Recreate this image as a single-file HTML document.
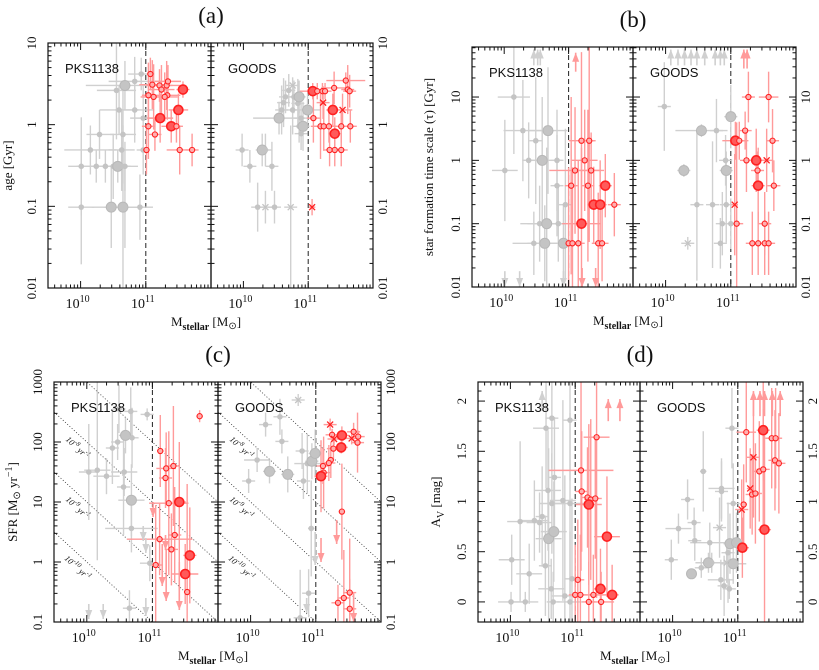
<!DOCTYPE html>
<html><head><meta charset="utf-8"><style>
html,body{margin:0;padding:0;background:#fff;width:819px;height:670px;overflow:hidden}
svg{display:block;font-family:"Liberation Serif",serif}
</style></head><body>
<svg id="fig" width="819" height="670" viewBox="0 0 819 670" xmlns="http://www.w3.org/2000/svg">
<defs></defs>
</svg>
<script>
// ---------- data: [logMstellar, y, type(0 small,1 big,2 cross), xErr, yErr] ----------
const aPksGray=[[10.01,-1.01,0,0.2,0.7],[10.15,-0.31,0,0.4,0.3],[10.29,-0.12,0,0.2,0.3],[10.01,-0.51,0,0.2,0.6],[10.24,-0.51,0,0.3,0.2],[10.38,-0.51,0,0.2,0.2],[10.50,-0.51,0,0.1,0.4],[10.57,-0.51,1,0.2,0.2],[10.63,-0.51,0,0.1,0.3],[10.68,-0.51,0,0.2,0.3],[10.47,-1.01,1,0.3,0.5],[10.65,-1.01,1,0.3,1.0],[10.68,-1.01,0,0.2,0.5],[10.91,-1.01,0,0.2,0.4],[10.55,0.42,0,0.3,0.6],[10.68,0.48,1,0.6,0.3],[10.83,0.53,0,0.4,0.3],[10.93,0.62,0,0.2,0.2],[10.59,0.18,0,0.3,0.3],[10.83,0.18,0,0.3,0.4],[10.63,-0.31,0,0.2,0.5],[10.65,-0.12,0,0.2,0.6],[10.96,-0.31,0,0.1,0.3],[10.96,0.08,0,0.2,0.4]];
const aPksRed=[[11.07,0.62,0,0.05,0.2],[11.10,0.49,0,0.2,0.3],[11.04,0.36,0,0.1,0.4],[11.12,0.34,0,0.2,0.4],[11.21,0.48,0,0.2,0.2],[11.24,0.43,0,0.2,0.3],[11.22,0.08,1,0.2,0.3],[11.32,0.48,0,0.2,0.3],[11.33,0.36,0,0.2,0.3],[11.29,0.34,0,0.2,0.3],[11.34,0.53,0,0.2,0.2],[11.57,0.43,1,0.1,0.1],[11.50,0.18,1,0.15,0.2],[11.39,-0.02,1,0.15,0.2],[11.47,-0.02,0,0.1,0.2],[11.04,-0.02,0,0.1,0.4],[11.14,-0.12,0,0.1,0.2],[11.01,-0.31,0,0.05,0.3],[11.52,-0.31,0,0.2,0.3],[11.71,-0.31,0,0.1,0.2]];
const aGoodsGray=[[9.98,-0.31,0,0.1,0.2],[10.10,-0.51,0,0.1,0.2],[10.29,-0.31,1,0.1,0.2],[10.34,-0.31,0,0.1,0.2],[10.44,-0.51,0,0.1,0.3],[10.22,-1.01,0,0.1,0.3],[10.34,-1.01,2,0.1,0.2],[10.48,-1.01,0,0.1,0.2],[10.73,-1.01,2,0.1,1.0],[10.55,0.08,1,0.4,0.2],[10.59,0.18,0,0.1,0.3],[10.62,0.27,0,0.1,0.3],[10.65,0.34,0,0.1,0.2],[10.70,0.42,0,0.1,0.2],[10.76,0.48,2,0.1,0.1],[10.76,0.18,0,0.1,0.3],[10.78,0.34,0,0.1,0.2],[10.84,0.26,0,0.1,0.3],[10.86,0.34,1,0.1,0.2],[10.86,-0.02,0,0.1,0.2],[10.92,-0.02,1,0.1,0.3],[10.89,-0.11,0,0.1,0.2],[10.99,0.18,1,0.2,0.2],[10.89,0.08,0,0.1,0.2]];
const aGoodsRed=[[11.07,0.41,1,0.2,0.1],[11.14,0.41,0,0.1,0.1],[11.22,0.41,0,0.1,0.1],[11.26,0.41,0,0.1,0.1],[11.23,0.27,2,0.1,0.2],[11.40,0.45,0,0.2,0.2],[11.58,0.54,0,0.3,0.1],[11.61,0.43,0,0.1,0.3],[11.64,0.41,0,0.1,0.2],[11.53,0.18,2,0.15,0.2],[11.38,0.18,1,0.1,0.2],[11.08,0.08,0,0.1,0.3],[11.19,-0.02,0,0.1,0.4],[11.24,-0.02,0,0.2,0.3],[11.32,-0.02,0,0.1,0.2],[11.51,-0.02,0,0.2,0.2],[11.65,-0.02,0,0.1,0.2],[11.41,-0.11,1,0.1,0.2],[11.33,-0.31,0,0.1,0.2],[11.41,-0.31,0,0.1,0.2],[11.51,-0.31,0,0.1,0.2],[11.06,-1.01,2,0.05,0.1]];

const bPksGray=[[10.15,1.0,0,0.25,0.9],[10.01,-0.16,0,0.2,0.8],[10.29,0.47,0,0.3,0.8],[10.49,0.31,0,0.1,1.0],[10.38,0,0,0.1,0.6],[10.68,0.47,1,0.3,1.0],[10.59,0,1,0.3,1.0],[10.82,0,0,0.1,0.8],[10.82,-0.4,0,0.1,0.8],[10.55,-1,0,0.3,0.6],[10.66,-1,1,0.3,1.2],[10.84,-1,0,0.1,0.6],[10.95,-0.7,0,0.1,1.2],[10.46,-1.31,0,0.1,0.5],[10.63,-1.31,1,0.5,0.6],[10.92,-1.31,1,0.2,0.6]];
const bPksRed=[[11.2,0.31,0,0.2,1.4],[11.32,0.31,0,0.1,1.6],[11.25,0,0,0.2,0.8],[11.1,-0.16,0,0.4,1.0],[11.35,-0.16,0,0.2,0.6],[11.04,-0.4,0,0.1,1.4],[11.3,-0.4,0,0.1,1.2],[11.57,-0.4,1,0.1,0.5],[11.39,-0.7,1,0.1,0.6],[11.49,-0.7,1,0.1,0.7],[11.71,-0.7,0,0.1,0.5],[11.2,-1,1,0.3,1.2],[11.0,-1.31,0,0.05,1.2],[11.06,-1.31,0,0.1,1.2],[11.15,-1.31,0,0.1,1.3],[11.46,-1.31,0,0.1,0.8],[11.52,-1.31,0,0.1,0.6]];
const bGoodsGray=[[9.98,0.85,0,0.1,0.7],[10.55,0.47,1,0.4,0.1],[10.78,0.47,0,0.1,0.5],[10.28,-0.16,1,0.1,0.1],[10.92,0,0,0.1,0.4],[10.93,-0.16,1,0.1,0.3],[11.0,0.69,1,0.1,0.5],[10.48,-0.7,0,0.1,1.2],[10.72,-0.7,0,0.1,1.0],[10.93,-0.7,0,0.1,0.6],[10.87,-1,0,0.1,0.5],[11.0,-1,0,0.1,0.4],[10.84,-1.31,0,0.1,0.4],[10.34,-1.31,2,0.1,0.1]];
const bGoodsRed=[[11.27,1,0,0.1,0.4],[11.58,1,0,0.15,0.4],[11.22,0.47,0,0.1,0.3],[11.07,0.31,1,0.2,0.3],[11.13,0.31,0,0.1,0.3],[11.64,0.31,0,0.1,0.5],[11.24,0,0,0.1,0.5],[11.39,0,1,0.2,0.5],[11.55,0,2,0.1,0.5],[11.41,-0.16,0,0.1,0.3],[11.42,-0.4,1,0.1,0.6],[11.66,-0.4,0,0.1,0.4],[11.06,-0.7,2,0.05,0.8],[11.09,-1,0,0.1,1.6],[11.52,-1,0,0.1,0.5],[11.33,-1.31,0,0.1,0.5],[11.42,-1.31,0,0.1,0.5],[11.52,-1.31,0,0.1,0.5],[11.58,-1.31,0,0.1,0.5]];

const cPksGray=[[10.03,1.5,0,0.15,0.8],[10.16,1.53,0,0.2,1.5],[10.30,1.43,0,0.2,0.3],[10.39,1.9,0,0.1,0.6],[10.49,2.55,0,0.1,0.4],[10.47,2.0,0,0.1,0.3],[10.56,1.25,0,0.1,0.8],[10.59,2.11,1,0.1,0.3],[10.67,2.51,0,0.1,0.4],[10.69,2.07,0,0.1,0.5],[10.68,1.03,1,0.2,0.6],[10.57,1.5,0,0.2,0.4],[10.68,0.56,0,0.4,0.4],[10.92,2.46,0,0.1,0.1],[10.96,-0.02,0,0.15,0.3],[10.65,-0.77,0,0.1,0.3]];
const cPksRed=[[11.72,2.43,0,0.05,0.1],[11.12,1.85,0,0.05,0.6],[11.21,1.56,0,0.15,0.6],[11.2,1.4,0,0.1,0.5],[11.32,1.6,0,0.1,1.0],[11.25,0.98,0,0.3,1.2],[11.41,1.0,1,0.1,1.0],[11.05,-0.05,0,0.1,1.0],[11.11,0.38,0,0.5,0.6],[11.34,0.45,0,0.1,0.8],[11.29,0.21,0,0.1,0.6],[11.57,0.11,1,0.1,0.8],[11.5,-0.2,1,0.2,0.5],[11.53,-0.5,0,0.05,1.8]];
const cGoodsGray=[[10.23,2.29,0,0.1,0.2],[10.45,2.42,0,0.1,0.3],[10.48,2.01,0,0.1,0.2],[10.73,2.7,2,0.1,0.1],[10.1,1.7,0,0.2,0.2],[9.97,1.35,0,0.1,0.2],[10.29,1.51,1,0.1,0.2],[10.57,1.46,1,0.1,0.3],[10.79,1.85,0,0.1,0.3],[10.87,1.64,0,0.2,0.5],[10.94,1.68,1,0.1,0.3],[10.99,1.81,1,0.1,0.4],[10.81,1.35,0,0.1,0.3],[10.93,0.56,0,0.05,0.8],[10.76,-0.93,0,0.1,0.8],[10.89,-0.52,0,0.1,0.4]];
const cGoodsRed=[[11.22,2.29,2,0.1,0.1],[11.25,2.12,0,0.1,0.1],[11.28,2.05,2,0.1,0.1],[11.4,2.11,1,0.1,0.15],[11.58,2.17,0,0.1,0.15],[11.55,2.06,2,0.1,0.1],[11.65,2.09,0,0.1,0.1],[11.64,1.99,0,0.1,0.5],[11.27,1.89,0,0.1,0.2],[11.39,1.91,1,0.1,0.1],[11.23,1.7,0,0.05,0.3],[11.2,1.65,0,0.1,0.3],[11.11,1.6,0,0.1,0.3],[11.12,1.49,0,0.1,0.6],[11.08,1.43,1,0.1,0.6],[11.4,0.84,0,0.05,0.8],[11.34,-0.68,0,0.1,0.3],[11.43,-0.6,0,0.1,0.8],[11.52,-0.51,0,0.1,0.9],[11.52,-0.78,0,0.1,0.5]];

const dPksGray=[[10.01,0,0,0.2,0.1],[10.23,0,0,0.2,0.1],[10.02,0.42,0,0.2,0.25],[10.29,0.28,0,0.2,0.3],[10.15,0.8,0,0.2,0.8],[10.37,0.81,0,0.2,0.4],[10.45,0.79,0,0.2,0.3],[10.49,0.85,0,0.1,0.5],[10.59,0.63,1,0.2,0.9],[10.67,0.7,1,0.2,0.5],[10.54,0.36,0,0.1,0.5],[10.58,1.11,0,0.2,0.6],[10.64,0.98,0,0.2,0.5],[10.68,1.24,0,0.1,0.6],[10.55,1.73,0,0.2,0.6],[10.64,1.83,0,0.1,0.5],[10.92,1.81,0,0.1,0.6],[10.81,1.01,0,0.2,1.0],[10.92,0.98,0,0.3,0.9],[10.63,0.13,0,0.2,0.3],[10.66,0,0,0.1,0.3],[10.84,0.06,0,0.2,1.2],[10.92,0,0,0.2,0.7],[10.95,0.23,0,0.1,0.8]];
const dPksRed=[[11.33,1.64,0,0.2,1.6],[11.09,1.31,0,0.5,1.0],[11.1,1.1,0,0.1,0.6],[11.19,1.04,0,0.1,0.5],[11.24,1.02,0,0.1,0.8],[11.31,1.03,0,0.1,0.6],[11.21,0.97,1,0.2,0.8],[11.49,0.65,1,0.2,0.6],[11.04,0.22,0,0.1,0.6],[11.0,0.07,0,0.1,0.5],[11.08,0.07,0,0.1,0.6],[11.28,0.07,0,0.2,0.4],[11.39,0.13,1,0.1,0.4],[11.57,0.07,1,0.1,0.3],[11.21,0,0,0.1,0.4],[11.4,0,0,0.2,0.3]];
const dGoodsGray=[[9.98,0.42,0,0.1,0.2],[10.09,0.73,0,0.2,0.15],[10.23,1.02,0,0.1,0.2],[10.33,0.79,0,0.1,0.15],[10.34,0.61,0,0.1,0.2],[10.29,0.28,1,0.05,0.05],[10.44,0.34,0,0.1,0.1],[10.55,0.39,1,0.2,0.1],[10.6,0.39,0,0.1,0.1],[10.47,1.3,0,0.05,0.4],[10.57,0.59,0,0.3,0.2],[10.75,1.13,0,0.2,0.3],[10.75,1.1,0,0.1,0.3],[10.72,0.74,2,0.1,0.3],[10.74,0.22,0,0.2,0.2],[10.79,0.16,0,0.1,0.3],[10.85,0.49,0,0.1,0.5],[10.88,0.58,1,0.1,0.3],[10.98,0.59,1,0.1,0.3],[10.93,0.38,1,0.2,0.2],[10.87,0.13,0,0.1,0.1],[10.91,1.73,0,0.1,0.4],[10.93,0.98,0,0.1,0.4],[10.83,0.39,2,0.1,0.2]];
const dGoodsRed=[[11.07,0.54,1,0.1,0.3],[11.06,0.92,2,0.1,0.3],[11.09,0.97,0,0.05,0.4],[11.13,1.69,0,0.15,0.5],[11.19,1.13,2,0.05,0.4],[11.24,1.44,2,0.1,0.6],[11.22,1.07,0,0.1,0.4],[11.27,1.08,0,0.1,0.5],[11.33,1.3,0,0.1,0.5],[11.39,1.32,0,0.1,0.6],[11.39,1.71,1,0.1,0.5],[11.41,0.72,1,0.1,1.0],[11.52,1.63,0,0.1,0.5],[11.58,1.63,0,0.1,0.5],[11.57,1.41,0,0.1,0.5],[11.63,1.38,0,0.1,0.5]];

const bPksGrayArrows=[[10.46,1.5,1.75],[10.52,1.5,1.75],[10.56,1.5,1.75],[10.01,-1.75,-2],[10.24,-1.75,-2],[10.92,-1.75,-2]];
const bPksRedArrows=[[11.11,1.4,1.7],[11.21,-1.7,-2],[11.42,-1.7,-2]];
const bGoodsGrayArrows=[[10.08,1.5,1.75],[10.19,1.5,1.75],[10.29,1.5,1.75],[10.39,1.5,1.75],[10.48,1.5,1.75],[10.6,1.5,1.75],[10.76,1.5,1.75],[10.84,1.5,1.75],[10.9,1.5,1.75]];
const bGoodsRedArrows=[[11.2,1.45,1.75],[11.25,1.45,1.75]];
const cPksGrayArrows=[[10.03,-0.7,-0.95],[10.25,-0.7,-0.95],[10.86,0.6,0.35],[10.9,0.4,0.15],[10.9,-0.6,-0.9]];
const cPksRedArrows=[[11.01,1.0,0.75],[11.15,0.3,-0.4],[11.21,0.2,-0.65],[11.41,0,-0.8],[11.2,0.45,0.2]];
const cGoodsGrayArrows=[[10.99,0.5,-0.05],[10.86,-0.6,-0.85]];
const cGoodsRedArrows=[[11.08,0.4,0],[11.32,0.7,0.3],[11.58,-0.5,-1]];
const dPksGrayArrows=[[10.49,1.9,2.1]];
const dPksRedArrows=[[11.51,1.8,2.02],[11.69,1.8,2.02]];
const dGoodsRedArrows=[[11.24,1.85,2.1],[11.34,1.85,2.1],[11.41,1.85,2.1],[11.53,1.85,2.1],[11.65,1.85,2.1]];
const guideIntercepts=[3,2,1,0];
const guideLabels=["-8","-9","-10"];
const xTickLabels=["10","10"];
const xTickExps=["10","11"];

const NS="http://www.w3.org/2000/svg";
const svg=document.getElementById('fig');
function el(tag,attrs,parent){const e=document.createElementNS(NS,tag);for(const k in attrs)e.setAttribute(k,attrs[k]);(parent||svg).appendChild(e);return e;}
const GRAY="#c4c4c4", GRAYE="#d0d0d0", RED="#ff2020", REDE="#ff9a9a";
let clipId=0;

function drawPanel(P){
  const g=el('g',{});
  
  
  const H=P.B-P.T;
  const ys=v=>P.B-(v-P.y0)/(P.y1-P.y0)*H;
  [0,1].forEach(s=>{
    const x0=s?P.M:P.L, x1=s?P.R:P.M;
    const xs=m=>x0+(m-9.5)/2.5*(x1-x0);
    const sub=el('g',{},g);
    
    
    const cid='c'+(clipId++);
    const cp=el('clipPath',{id:cid},sub);el('rect',{x:x0,y:P.T,width:x1-x0,height:H},cp);
    const plot=el('g',{'clip-path':'url(#'+cid+')'},sub);
    if(P.ssfr){
      guideIntercepts.forEach(c=>{
        const ln=el('line',{x1:xs(9.5),y1:ys(c+0.5),x2:xs(12),y2:ys(c-2),stroke:'#333','stroke-width':0.8,'stroke-dasharray':'1,2'},plot);
        
        
      });
      guideLabels.forEach((lab,i)=>{
        const m=9.83;
        const cx=xs(m), cy=ys(guideIntercepts[i+1]-(m-10)-0.3);
        const t=el('text',{x:cx,y:cy,'font-size':8.5,'font-style':'italic','text-anchor':'middle',transform:`rotate(43 ${cx} ${cy})`,fill:'#111'},plot);
        
        
        t.innerHTML=`10<tspan dy="-4" font-size="6.5">${lab}</tspan><tspan dy="4"> yr</tspan><tspan dy="-4" font-size="6.5">-1</tspan>`;
      });
    }
    const dl=el('line',{x1:xs(11),y1:P.T,x2:xs(11),y2:P.B,stroke:'#222','stroke-width':1,'stroke-dasharray':'5,3'},plot);
    
    
    const sets=s?[[P.gg,GRAY,GRAYE],[P.gr,RED,REDE]]:[[P.pg,GRAY,GRAYE],[P.pr,RED,REDE]];
    const arrs=s?[[P.gga,GRAYE],[P.gra,REDE]]:[[P.pga,GRAYE],[P.pra,REDE]];
    sets.forEach(([data,col,ecol])=>{
      data.forEach(p=>{
        const [m,v,t,ex,ey]=p;
        const x=xs(m),y=ys(v);
        el('line',{x1:xs(m-ex),y1:y,x2:xs(m+ex),y2:y,stroke:ecol,'stroke-width':1.4},plot);
        el('line',{x1:x,y1:ys(v-ey),x2:x,y2:ys(v+ey),stroke:ecol,'stroke-width':1.4},plot);
      });
    });
    arrs.forEach(([data,col])=>{ if(!data)return;
      data.forEach(a=>{
        const x=xs(a[0]),y1=ys(a[1]),y2=ys(a[2]);const d=y2<y1?1:-1;
        const ar=el('g',{},plot);
        
        
        el('line',{x1:x,y1:y1,x2:x,y2:y2,stroke:col,'stroke-width':1.6},ar);
        el('polygon',{points:`${x},${y2} ${x-3.5},${y2+9*d} ${x+3.5},${y2+9*d}`,fill:col},ar);
      });
    });
    sets.forEach(([data,col,ecol])=>{
      data.forEach(p=>{
        const [m,v,t]=p;const x=xs(m),y=ys(v);
        let mk;
        if(t===2){mk=el('path',{d:`M${x-3},${y-3}L${x+3},${y+3}M${x-3},${y+3}L${x+3},${y-3}`,stroke:col,'stroke-width':1.3},plot);}
        else if(col===RED){mk=el('circle',{cx:x,cy:y,r:t?4.5:2.6,fill:t?'#ff5a5a':'#ffb0b0',stroke:RED,'stroke-width':t?1.6:1.1},plot);}
        else {mk=el('circle',{cx:x,cy:y,r:t?5:2.8,fill:col,stroke:t?'#b8b8b8':'none','stroke-width':1},plot);}
        
        
      });
    });
    el('rect',{x:x0,y:P.T,width:x1-x0,height:H,fill:'none',stroke:'#111','stroke-width':1.2},sub);
    for(let dec=9;dec<12;dec++)for(let k=1;k<10;k++){
      const lm=dec+Math.log10(k); if(lm<9.5||lm>12)continue;
      const x=xs(lm),L=k===1?7:3.5;
      el('line',{x1:x,y1:P.B,x2:x,y2:P.B-L,stroke:'#111','stroke-width':1},sub);
      el('line',{x1:x,y1:P.T,x2:x,y2:P.T+L,stroke:'#111','stroke-width':1},sub);
    }
    xTickExps.forEach((e,i)=>{
      const t=el('text',{x:xs(+e)-3,y:P.B+20,'font-size':14,'text-anchor':'middle',fill:'#111'},sub);
      
      
      t.innerHTML=`${xTickLabels[i]}<tspan dy="-6" font-size="10">${e}</tspan>`;
    });
    const yt=[];
    if(P.log){for(let dec=Math.floor(P.y0);dec<=Math.ceil(P.y1);dec++)for(let k=1;k<10;k++){const v=dec+Math.log10(k);if(v>=P.y0&&v<=P.y1)yt.push([v,k===1]);}}
    else {for(let i=-2;i<=22;i++){const v=i/10;if(v>=P.y0&&v<=P.y1)yt.push([v,i%5===0]);}}
    yt.forEach(([v,maj])=>{const y=ys(v),L=maj?7:3.5;
      el('line',{x1:x0,y1:y,x2:x0+L,y2:y,stroke:'#111','stroke-width':1},sub);
      el('line',{x1:x1,y1:y,x2:x1-L,y2:y,stroke:'#111','stroke-width':1},sub);});
    const nm=el('text',{x:x0+17,y:P.T+30,'font-size':13,'font-family':'Liberation Sans, sans-serif',fill:'#111'},sub);
    
    
    nm.textContent=s?'GOODS':'PKS1138';
  });
  P.ylab.forEach(([v,txt])=>{
    [[P.L-12,'left'],[P.R+14,'right']].forEach(([x,side])=>{
      const y=ys(v);
      const t=el('text',{x:x,y:y,'font-size':13,'text-anchor':'middle',transform:`rotate(-90 ${x} ${y})`,fill:'#111'},g);
      
      
      t.textContent=txt;
    });
  });
  const ttl=el('text',{x:P.M,y:P.T-20,'font-size':23,'text-anchor':'middle',fill:'#111'},g);
  
  
  ttl.textContent=P.title;
  const xl=el('text',{x:P.M-5,y:P.B+38,'font-size':13,'text-anchor':'middle',fill:'#111'},g);
  
  
  xl.innerHTML='M<tspan dy="4" font-size="10" font-weight="bold">stellar</tspan><tspan dy="-4">   [M</tspan><tspan dy="3" font-size="10">⊙</tspan><tspan dy="-3">]</tspan>';
  const yx=P.ytx, yy=(P.T+P.B)/2;
  const yl=el('text',{x:yx,y:yy,'font-size':13,'text-anchor':'middle',transform:`rotate(-90 ${yx} ${yy})`,fill:'#111'},g);
  
  
  yl.innerHTML=P.ytitle;
}

drawPanel({name:'panel-a-age',title:'(a)',L:48,M:211,R:373,T:43,B:288,y0:-2,y1:1,log:true,
  ylab:[[1,'10'],[0,'1'],[-1,'0.1'],[-2,'0.01']],ytx:12,ytitle:'age  [Gyr]',
  pg:aPksGray,pr:aPksRed,gg:aGoodsGray,gr:aGoodsRed});
drawPanel({name:'panel-b-tau',title:'(b)',L:472,M:633,R:796,T:47,B:287,y0:-2,y1:1.79,log:true,
  ylab:[[1,'10'],[0,'1'],[-1,'0.1'],[-2,'0.01']],ytx:433,ytitle:'star formation time scale (τ)  [Gyr]',
  pg:bPksGray,pr:bPksRed,gg:bGoodsGray,gr:bGoodsRed,pga:bPksGrayArrows,pra:bPksRedArrows,gga:bGoodsGrayArrows,gra:bGoodsRedArrows});
drawPanel({name:'panel-c-sfr',title:'(c)',L:54,M:218,R:381,T:382,B:622,y0:-1,y1:3,log:true,ssfr:true,
  ylab:[[3,'1000'],[2,'100'],[1,'10'],[0,'1'],[-1,'0.1']],ytx:17,ytitle:'SFR  [M<tspan dy="3" font-size="10">⊙</tspan><tspan dy="-3"> yr</tspan><tspan dy="-5" font-size="10">−1</tspan><tspan dy="5">]</tspan>',
  pg:cPksGray,pr:cPksRed,gg:cGoodsGray,gr:cGoodsRed,pga:cPksGrayArrows,pra:cPksRedArrows,gga:cGoodsGrayArrows,gra:cGoodsRedArrows});
drawPanel({name:'panel-d-extinction',title:'(d)',L:478,M:640,R:803,T:382,B:622,y0:-0.2,y1:2.19,log:false,
  ylab:[[2,'2'],[1.5,'1.5'],[1,'1'],[0.5,'0.5'],[0,'0']],ytx:440,ytitle:'A<tspan dy="4" font-size="10">V</tspan><tspan dy="-4"> [mag]</tspan>',
  pg:dPksGray,pr:dPksRed,gg:dGoodsGray,gr:dGoodsRed,pga:dPksGrayArrows,pra:dPksRedArrows,gra:dGoodsRedArrows});
</script>
</body></html>
